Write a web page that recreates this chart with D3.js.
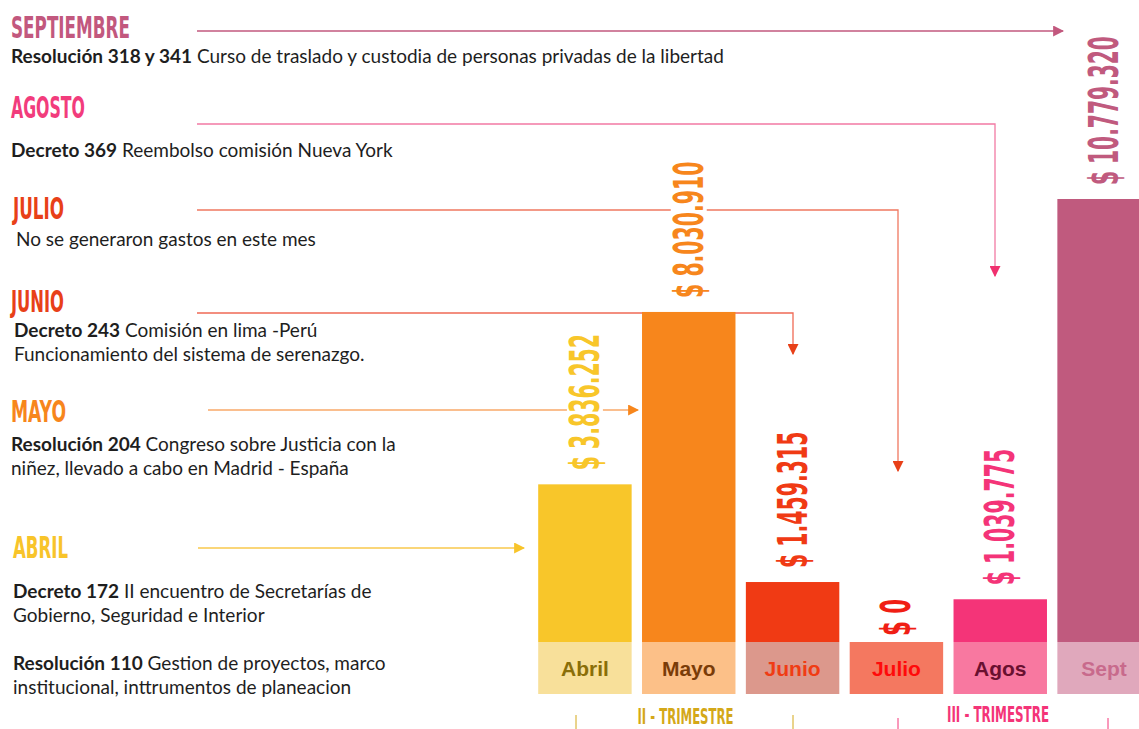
<!DOCTYPE html>
<html>
<head>
<meta charset="utf-8">
<script src="https://cdn.jsdelivr.net/npm/d3@7"></script>
<style>
  body { margin: 0; background: #fff; }
  .note { font-family: Lato, "Open Sans", sans-serif; font-size: 19px; fill: #1e1e1e; }
  .head { font-family: "Liberation Sans Narrow", "DejaVu Sans Condensed", sans-serif; font-weight: bold; }
  .lbl { font-family: "Liberation Sans", Arial, sans-serif; font-weight: bold; font-size: 21px; }
</style>
</head>
<body>
<div id="chart"></div>
<script>
const width = 1139, height = 729;

// data
const months = ["Abril", "Mayo", "Junio", "Julio", "Agos", "Sept"];
const values = [3836252, 8030910, 1459315, 0, 1039775, 10779320];
const valueLabels = ["$ 3.836.252", "$ 8.030.910", "$ 1.459.315", "$ 0", "$ 1.039.775", "$ 10.779.320"];
const barColors = ["#f8c62a", "#f7861c", "#f03a14", "#f47860", "#f43478", "#c05a7e"];
const valColors = ["#f8c62a", "#f7861c", "#f03a14", "#f01e14", "#f43478", "#c05a7e"];
const boxColors = ["#f8e09a", "#fcc088", "#dc988c", "#f47860", "#f878a0", "#e0a8bc"];
const labelColors = ["#8a6e08", "#7a3c08", "#f03c14", "#ff0a0a", "#6a1030", "#c86a8c"];

const headings = ["SEPTIEMBRE", "AGOSTO", "JULIO", "JUNIO", "MAYO", "ABRIL"];
const headColors = ["#c2587e", "#f23c7c", "#e84018", "#e84018", "#f7861c", "#f8c42a"];
const lineColors = ["#c2587e", "#f27aa4", "#f07860", "#f06a55", "#f8a868", "#f8c84c"];
const notes = [
  [["Resolución 318 y 341", " Curso de traslado y custodia de personas privadas de la libertad"]],
  [["Decreto 369", " Reembolso comisión Nueva York"]],
  [["", "No se generaron gastos en este mes"]],
  [["Decreto 243", " Comisión en lima -Perú"], ["", "Funcionamiento del sistema de serenazgo."]],
  [["Resolución 204", " Congreso sobre Justicia con la"], ["", "niñez, llevado a cabo en Madrid - España"]],
  [["Decreto 172", " II encuentro de Secretarías de"], ["", "Gobierno, Seguridad e Interior"], [],
   ["Resolución 110", " Gestion de proyectos, marco"], ["", "institucional, inttrumentos de planeacion"]]
];
const trimestres = ["II - TRIMESTRE", "III - TRIMESTRE"];

// layout
const headY = [38, 118, 219, 312, 422, 558];
const headX = [11, 11, 13, 11, 11, 13];
const headW = [119, 74, 51, 53, 55, 55];
const noteY = [63, 157, 246, 337, 451, 598];
const noteX = [11, 11, 16, 14, 11, 13];
const arrowY = [31, 124, 210, 313, 410, 548];
const arrowX0 = [197, 197, 197, 197, 208, 198];
const arrowX1 = [1063, 995, 898, 793, 638, 524];
const arrowY1 = [null, 276, 471, 354, null, null];
const tickX = [[576, 793], [898, 1108]];

const svg = d3.select("#chart").append("svg")
    .attr("width", width)
    .attr("height", height);

const x = d3.scaleBand().domain(months).range([533, 1156]).paddingInner(0.1).paddingOuter(0.05);
const y = d3.scaleLinear().domain([0, d3.max(values)]).range([642, 199]);

// arrow markers
const defs = svg.append("defs");
lineColors.forEach(function (c, i) {
  defs.append("marker")
      .attr("id", "ah" + i)
      .attr("viewBox", "0 0 10 10")
      .attr("refX", 9).attr("refY", 5)
      .attr("markerWidth", 11).attr("markerHeight", 11)
      .attr("markerUnits", "userSpaceOnUse")
      .attr("orient", "auto")
    .append("path")
      .attr("d", "M0,0L10,5L0,10Z")
      .attr("fill", i == 1 ? "#f0306e" : i == 2 || i == 3 ? "#e84018" : headColors[i]);
});

// headings + notes
headings.forEach(function (h, i) {
  svg.append("text")
      .attr("class", "head")
      .attr("x", headX[i]).attr("y", headY[i])
      .attr("font-size", 30)
      .attr("textLength", headW[i])
      .attr("lengthAdjust", "spacingAndGlyphs")
      .attr("fill", headColors[i])
      .text(h);
  notes[i].forEach(function (ln, j) {
    if (!ln.length) return;
    const t = svg.append("text").attr("class", "note")
        .attr("x", noteX[i]).attr("y", noteY[i] + j * 24);
    if (ln[0]) t.append("tspan").attr("font-weight", "bold").text(ln[0]);
    t.append("tspan").text(ln[1]);
  });
});

// connector arrows
headings.forEach(function (h, i) {
  let d = "M" + arrowX0[i] + "," + arrowY[i] + "H" + arrowX1[i];
  if (arrowY1[i]) d += "V" + arrowY1[i];
  svg.append("path")
      .attr("d", d)
      .attr("fill", "none")
      .attr("stroke", lineColors[i])
      .attr("stroke-width", 1.3)
      .attr("marker-end", "url(#ah" + i + ")");
});

// bars
svg.selectAll(".bar")
    .data(values)
    .enter().append("rect")
    .attr("class", "bar")
    .attr("x", function (d, i) { return x(months[i]); })
    .attr("y", function (d) { return y(d); })
    .attr("width", x.bandwidth())
    .attr("height", function (d) { return y(0) - y(d); })
    .attr("fill", function (d, i) { return barColors[i]; });

// label boxes
svg.selectAll(".box")
    .data(months)
    .enter().append("rect")
    .attr("class", "box")
    .attr("x", function (d) { return x(d); })
    .attr("y", y(0))
    .attr("width", x.bandwidth())
    .attr("height", 52)
    .attr("fill", function (d, i) { return boxColors[i]; });

svg.selectAll(".lbl")
    .data(months)
    .enter().append("text")
    .attr("class", "lbl")
    .attr("x", function (d) { return x(d) + x.bandwidth() / 2; })
    .attr("y", y(0) + 34)
    .attr("text-anchor", "middle")
    .attr("fill", function (d, i) { return labelColors[i]; })
    .text(function (d) { return d; });

// value labels, rotated, with a white backing so the connector lines break around them
const valG = svg.selectAll(".val")
    .data(values)
    .enter().append("g")
    .attr("class", "val")
    .attr("transform", function (d, i) {
      const cx = x(months[i]) + x.bandwidth() / 2 + 14;
      return "translate(" + cx + "," + (y(d) - (d ? 14 : 6)) + ") rotate(-90)";
    });

valG.append("rect").attr("fill", "#fff");

valG.append("text")
    .attr("class", "head")
    .attr("font-size", 40)
    .attr("textLength", function (d, i) { return valueLabels[i].length * 12.4; })
    .attr("lengthAdjust", "spacingAndGlyphs")
    .attr("fill", function (d, i) { return valColors[i]; })
    .text(function (d, i) { return valueLabels[i]; });

valG.each(function () {
  const g = d3.select(this);
  const bb = g.select("text").node().getBBox();
  g.select("rect")
      .attr("x", bb.x - 4).attr("width", bb.width + 8)
      .attr("y", -32).attr("height", 36);
});

// trimestre labels + ticks
const trimCols = ["#d4a818", "#f43478"];
trimestres.forEach(function (t, i) {
  const a = tickX[i][0], b = tickX[i][1];
  svg.append("text")
      .attr("class", "head")
      .attr("x", (a + b) / 2 + 1 - i * 6).attr("y", 724 - i * 2)
      .attr("text-anchor", "middle")
      .attr("font-size", 22)
      .attr("textLength", 96 + i * 6)
      .attr("lengthAdjust", "spacingAndGlyphs")
      .attr("fill", trimCols[i])
      .text(t);
  [a, b].forEach(function (xx) {
    svg.append("line")
        .attr("x1", xx).attr("x2", xx)
        .attr("y1", 715 + i * 3).attr("y2", 729)
        .attr("stroke", trimCols[i]).attr("stroke-width", 1);
  });
});
</script>
</body>
</html>
